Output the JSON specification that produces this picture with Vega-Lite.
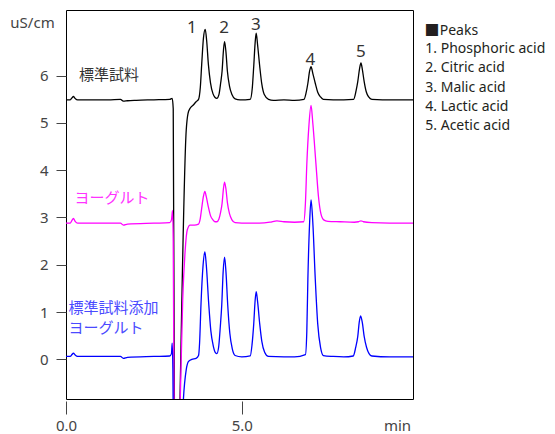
{
  "$schema": "https://vega.github.io/schema/vega-lite/v6.json",
  "autosize": "none",
  "width": 347,
  "height": 389,
  "padding": {"left": 66, "top": 10, "right": 142, "bottom": 35},
  "background": "white",
  "config": {"view": {"stroke": "#000", "strokeWidth": 1}},
  "datasets": {
    "traces": [
      {"s": "A", "t": 0.0, "v": 5.49}, {"s": "A", "t": 0.12, "v": 5.49}, {"s": "A", "t": 0.17, "v": 5.53}, {"s": "A", "t": 0.21, "v": 5.56}, {"s": "A", "t": 0.26, "v": 5.52}, {"s": "A", "t": 0.33, "v": 5.49},
      {"s": "A", "t": 0.8, "v": 5.49}, {"s": "A", "t": 1.2, "v": 5.49}, {"s": "A", "t": 1.55, "v": 5.5}, {"s": "A", "t": 1.63, "v": 5.46}, {"s": "A", "t": 1.75, "v": 5.47}, {"s": "A", "t": 2.0, "v": 5.48},
      {"s": "A", "t": 2.5, "v": 5.49}, {"s": "A", "t": 2.95, "v": 5.5}, {"s": "A", "t": 3.02, "v": 5.52}, {"s": "A", "t": 3.05, "v": 5.3}, {"s": "A", "t": 3.1, "v": -4.0}, {"s": "A", "t": 3.14, "v": -4.5},
      {"s": "A", "t": 3.18, "v": -3.2}, {"s": "A", "t": 3.42, "v": 4.85}, {"s": "A", "t": 3.47, "v": 5.2}, {"s": "A", "t": 3.53, "v": 5.31}, {"s": "A", "t": 3.62, "v": 5.38}, {"s": "A", "t": 3.7, "v": 5.45},
      {"s": "A", "t": 3.77, "v": 5.5}, {"s": "A", "t": 3.82, "v": 5.75}, {"s": "A", "t": 3.86, "v": 6.24}, {"s": "A", "t": 3.91, "v": 6.8}, {"s": "A", "t": 3.96, "v": 6.98}, {"s": "A", "t": 4.0, "v": 6.75},
      {"s": "A", "t": 4.05, "v": 6.24}, {"s": "A", "t": 4.11, "v": 5.85}, {"s": "A", "t": 4.18, "v": 5.62}, {"s": "A", "t": 4.24, "v": 5.54}, {"s": "A", "t": 4.29, "v": 5.52},
      {"s": "A", "t": 4.35, "v": 5.6}, {"s": "A", "t": 4.4, "v": 5.85}, {"s": "A", "t": 4.44, "v": 6.1}, {"s": "A", "t": 4.48, "v": 6.55}, {"s": "A", "t": 4.51, "v": 6.72}, {"s": "A", "t": 4.55, "v": 6.5},
      {"s": "A", "t": 4.59, "v": 6.1}, {"s": "A", "t": 4.65, "v": 5.78}, {"s": "A", "t": 4.72, "v": 5.6}, {"s": "A", "t": 4.81, "v": 5.51}, {"s": "A", "t": 4.95, "v": 5.49}, {"s": "A", "t": 5.1, "v": 5.49},
      {"s": "A", "t": 5.24, "v": 5.5}, {"s": "A", "t": 5.3, "v": 5.75}, {"s": "A", "t": 5.34, "v": 6.2}, {"s": "A", "t": 5.38, "v": 6.7}, {"s": "A", "t": 5.41, "v": 6.9}, {"s": "A", "t": 5.45, "v": 6.65},
      {"s": "A", "t": 5.51, "v": 6.2}, {"s": "A", "t": 5.57, "v": 5.82}, {"s": "A", "t": 5.64, "v": 5.6}, {"s": "A", "t": 5.76, "v": 5.5}, {"s": "A", "t": 5.9, "v": 5.48}, {"s": "A", "t": 6.2, "v": 5.49},
      {"s": "A", "t": 6.5, "v": 5.48}, {"s": "A", "t": 6.77, "v": 5.5}, {"s": "A", "t": 6.83, "v": 5.64}, {"s": "A", "t": 6.88, "v": 5.84}, {"s": "A", "t": 6.93, "v": 6.1}, {"s": "A", "t": 6.97, "v": 6.19},
      {"s": "A", "t": 7.02, "v": 6.05}, {"s": "A", "t": 7.09, "v": 5.84}, {"s": "A", "t": 7.16, "v": 5.65}, {"s": "A", "t": 7.24, "v": 5.55}, {"s": "A", "t": 7.32, "v": 5.5}, {"s": "A", "t": 7.6, "v": 5.49},
      {"s": "A", "t": 7.9, "v": 5.49}, {"s": "A", "t": 8.18, "v": 5.5}, {"s": "A", "t": 8.25, "v": 5.68}, {"s": "A", "t": 8.3, "v": 5.88}, {"s": "A", "t": 8.35, "v": 6.15}, {"s": "A", "t": 8.39, "v": 6.27},
      {"s": "A", "t": 8.43, "v": 6.13}, {"s": "A", "t": 8.48, "v": 5.88}, {"s": "A", "t": 8.54, "v": 5.66}, {"s": "A", "t": 8.61, "v": 5.55}, {"s": "A", "t": 8.7, "v": 5.5}, {"s": "A", "t": 9.0, "v": 5.49},
      {"s": "A", "t": 9.4, "v": 5.49}, {"s": "A", "t": 9.87, "v": 5.49},

      {"s": "B", "t": 0.0, "v": 2.88}, {"s": "B", "t": 0.12, "v": 2.88}, {"s": "B", "t": 0.17, "v": 2.94}, {"s": "B", "t": 0.21, "v": 2.98}, {"s": "B", "t": 0.26, "v": 2.92}, {"s": "B", "t": 0.33, "v": 2.88},
      {"s": "B", "t": 1.2, "v": 2.88}, {"s": "B", "t": 1.55, "v": 2.88}, {"s": "B", "t": 1.63, "v": 2.84}, {"s": "B", "t": 1.75, "v": 2.86}, {"s": "B", "t": 2.5, "v": 2.88}, {"s": "B", "t": 2.95, "v": 2.89},
      {"s": "B", "t": 3.0, "v": 2.95}, {"s": "B", "t": 3.03, "v": 3.15}, {"s": "B", "t": 3.05, "v": 2.5}, {"s": "B", "t": 3.09, "v": -3.0}, {"s": "B", "t": 3.14, "v": -4.0}, {"s": "B", "t": 3.2, "v": -2.0},
      {"s": "B", "t": 3.25, "v": -0.84}, {"s": "B", "t": 3.32, "v": 1.26}, {"s": "B", "t": 3.39, "v": 2.31}, {"s": "B", "t": 3.45, "v": 2.74}, {"s": "B", "t": 3.53, "v": 2.84}, {"s": "B", "t": 3.65, "v": 2.84},
      {"s": "B", "t": 3.77, "v": 2.86}, {"s": "B", "t": 3.82, "v": 2.98}, {"s": "B", "t": 3.86, "v": 3.2}, {"s": "B", "t": 3.91, "v": 3.45}, {"s": "B", "t": 3.95, "v": 3.55}, {"s": "B", "t": 3.99, "v": 3.44},
      {"s": "B", "t": 4.05, "v": 3.22}, {"s": "B", "t": 4.11, "v": 3.04}, {"s": "B", "t": 4.18, "v": 2.95}, {"s": "B", "t": 4.24, "v": 2.91}, {"s": "B", "t": 4.29, "v": 2.91},
      {"s": "B", "t": 4.35, "v": 2.97}, {"s": "B", "t": 4.4, "v": 3.12}, {"s": "B", "t": 4.44, "v": 3.3}, {"s": "B", "t": 4.48, "v": 3.62}, {"s": "B", "t": 4.51, "v": 3.75}, {"s": "B", "t": 4.55, "v": 3.6},
      {"s": "B", "t": 4.59, "v": 3.32}, {"s": "B", "t": 4.65, "v": 3.08}, {"s": "B", "t": 4.72, "v": 2.95}, {"s": "B", "t": 4.81, "v": 2.89}, {"s": "B", "t": 5.0, "v": 2.88}, {"s": "B", "t": 5.5, "v": 2.88},
      {"s": "B", "t": 5.8, "v": 2.9}, {"s": "B", "t": 6.0, "v": 2.93}, {"s": "B", "t": 6.2, "v": 2.91}, {"s": "B", "t": 6.5, "v": 2.9}, {"s": "B", "t": 6.76, "v": 2.91},
      {"s": "B", "t": 6.81, "v": 3.3}, {"s": "B", "t": 6.85, "v": 4.13}, {"s": "B", "t": 6.91, "v": 4.95}, {"s": "B", "t": 6.97, "v": 5.37}, {"s": "B", "t": 7.02, "v": 5.0}, {"s": "B", "t": 7.11, "v": 4.13},
      {"s": "B", "t": 7.18, "v": 3.45}, {"s": "B", "t": 7.25, "v": 3.08}, {"s": "B", "t": 7.33, "v": 2.95}, {"s": "B", "t": 7.45, "v": 2.92}, {"s": "B", "t": 7.8, "v": 2.91}, {"s": "B", "t": 8.2, "v": 2.9},
      {"s": "B", "t": 8.32, "v": 2.91}, {"s": "B", "t": 8.39, "v": 2.93}, {"s": "B", "t": 8.46, "v": 2.91}, {"s": "B", "t": 8.7, "v": 2.89}, {"s": "B", "t": 9.2, "v": 2.88}, {"s": "B", "t": 9.87, "v": 2.88},

      {"s": "C", "t": 0.0, "v": 0.06}, {"s": "C", "t": 0.12, "v": 0.06}, {"s": "C", "t": 0.17, "v": 0.1}, {"s": "C", "t": 0.21, "v": 0.13}, {"s": "C", "t": 0.26, "v": 0.09}, {"s": "C", "t": 0.33, "v": 0.06},
      {"s": "C", "t": 1.2, "v": 0.06}, {"s": "C", "t": 1.55, "v": 0.06}, {"s": "C", "t": 1.63, "v": 0.02}, {"s": "C", "t": 1.75, "v": 0.04}, {"s": "C", "t": 2.5, "v": 0.06}, {"s": "C", "t": 2.95, "v": 0.07},
      {"s": "C", "t": 3.0, "v": 0.12}, {"s": "C", "t": 3.02, "v": 0.34}, {"s": "C", "t": 3.04, "v": -0.2}, {"s": "C", "t": 3.07, "v": -3.0}, {"s": "C", "t": 3.12, "v": -4.0}, {"s": "C", "t": 3.2, "v": -4.0},
      {"s": "C", "t": 3.34, "v": -0.84}, {"s": "C", "t": 3.42, "v": -0.22}, {"s": "C", "t": 3.48, "v": -0.05}, {"s": "C", "t": 3.58, "v": 0.0}, {"s": "C", "t": 3.7, "v": 0.02},
      {"s": "C", "t": 3.77, "v": 0.08}, {"s": "C", "t": 3.8, "v": 0.35}, {"s": "C", "t": 3.84, "v": 1.17}, {"s": "C", "t": 3.9, "v": 2.0}, {"s": "C", "t": 3.95, "v": 2.27}, {"s": "C", "t": 3.99, "v": 2.0},
      {"s": "C", "t": 4.06, "v": 1.17}, {"s": "C", "t": 4.12, "v": 0.6}, {"s": "C", "t": 4.19, "v": 0.28}, {"s": "C", "t": 4.25, "v": 0.14}, {"s": "C", "t": 4.29, "v": 0.12},
      {"s": "C", "t": 4.34, "v": 0.25}, {"s": "C", "t": 4.39, "v": 0.7}, {"s": "C", "t": 4.43, "v": 1.15}, {"s": "C", "t": 4.47, "v": 1.85}, {"s": "C", "t": 4.51, "v": 2.16}, {"s": "C", "t": 4.55, "v": 1.85},
      {"s": "C", "t": 4.6, "v": 1.15}, {"s": "C", "t": 4.66, "v": 0.55}, {"s": "C", "t": 4.73, "v": 0.22}, {"s": "C", "t": 4.81, "v": 0.08}, {"s": "C", "t": 5.0, "v": 0.05}, {"s": "C", "t": 5.24, "v": 0.07},
      {"s": "C", "t": 5.29, "v": 0.3}, {"s": "C", "t": 5.34, "v": 0.75}, {"s": "C", "t": 5.38, "v": 1.25}, {"s": "C", "t": 5.41, "v": 1.43}, {"s": "C", "t": 5.45, "v": 1.22}, {"s": "C", "t": 5.51, "v": 0.75},
      {"s": "C", "t": 5.57, "v": 0.38}, {"s": "C", "t": 5.65, "v": 0.15}, {"s": "C", "t": 5.76, "v": 0.06}, {"s": "C", "t": 6.2, "v": 0.05}, {"s": "C", "t": 6.5, "v": 0.05}, {"s": "C", "t": 6.81, "v": 0.1},
      {"s": "C", "t": 6.85, "v": 0.6}, {"s": "C", "t": 6.88, "v": 1.7}, {"s": "C", "t": 6.93, "v": 2.9}, {"s": "C", "t": 6.97, "v": 3.37}, {"s": "C", "t": 7.02, "v": 2.9}, {"s": "C", "t": 7.09, "v": 1.7},
      {"s": "C", "t": 7.16, "v": 0.75}, {"s": "C", "t": 7.24, "v": 0.25}, {"s": "C", "t": 7.32, "v": 0.08}, {"s": "C", "t": 7.6, "v": 0.06}, {"s": "C", "t": 7.9, "v": 0.05}, {"s": "C", "t": 8.17, "v": 0.07},
      {"s": "C", "t": 8.24, "v": 0.25}, {"s": "C", "t": 8.3, "v": 0.49}, {"s": "C", "t": 8.34, "v": 0.78}, {"s": "C", "t": 8.38, "v": 0.92}, {"s": "C", "t": 8.43, "v": 0.77}, {"s": "C", "t": 8.48, "v": 0.49},
      {"s": "C", "t": 8.55, "v": 0.25}, {"s": "C", "t": 8.62, "v": 0.12}, {"s": "C", "t": 8.7, "v": 0.07}, {"s": "C", "t": 9.2, "v": 0.05}, {"s": "C", "t": 9.87, "v": 0.05}
    ],
    "peaks": [
      {"label": "1", "t": 3.58, "v": 7.0},
      {"label": "2", "t": 4.5, "v": 7.01},
      {"label": "3", "t": 5.4, "v": 7.07},
      {"label": "4", "t": 6.95, "v": 6.33},
      {"label": "5", "t": 8.39, "v": 6.5}
    ],
    "samples": [
      {"s": "A", "label": "標準試料", "t": 0.37, "v": 6.01},
      {"s": "B", "label": "ヨーグルト", "t": 0.24, "v": 3.41},
      {"s": "C", "label": "標準試料添加", "t": 0.07, "v": 1.08},
      {"s": "C", "label": "ヨーグルト", "t": 0.07, "v": 0.67}
    ],
    "legendMark": [
      {"label": "■", "t": 10.2, "v": 6.95}
    ],
    "legend": [
      {"label": "Peaks", "t": 10.63, "v": 6.95},
      {"label": "1. Phosphoric acid", "t": 10.22, "v": 6.56},
      {"label": "2. Citric acid", "t": 10.22, "v": 6.16},
      {"label": "3. Malic acid", "t": 10.22, "v": 5.75},
      {"label": "4. Lactic acid", "t": 10.22, "v": 5.34},
      {"label": "5. Acetic acid", "t": 10.22, "v": 4.94}
    ]
  },
  "layer": [
    {
      "data": {"name": "traces"},
      "mark": {"type": "line", "clip": true, "strokeWidth": 1.3, "interpolate": "monotone"},
      "encoding": {
        "x": {
          "field": "t", "type": "quantitative",
          "scale": {"domain": [0, 9.87], "nice": false, "zero": false},
          "axis": {
            "values": [0, 5], "format": ".1f", "domain": false, "grid": false,
            "offset": 2, "tickSize": 13, "tickColor": "#444", "tickWidth": 1,
            "labelFont": "Noto Sans", "labelFontSize": 15, "labelColor": "#444", "labelPadding": 4,
            "labelFlush": false, "labelOverlap": false, "labelBound": false,
            "title": "min", "titleFont": "Noto Sans", "titleFontSize": 15, "titleFontWeight": "normal",
            "titleColor": "#444", "titleX": 331, "titleY": 24, "titleAlign": "center", "titleBaseline": "middle"
          }
        },
        "y": {
          "field": "v", "type": "quantitative",
          "scale": {"domain": [-0.84, 7.39], "nice": false, "zero": false},
          "axis": {
            "values": [0, 1, 2, 3, 4, 5, 6], "format": "d", "domain": false, "grid": false,
            "tickSize": 10, "tickColor": "#444", "tickWidth": 1,
            "labelFont": "Noto Sans", "labelFontSize": 15, "labelColor": "#444", "labelPadding": 8,
            "title": "uS/cm", "titleAngle": 0, "titleFont": "Noto Sans", "titleFontSize": 15, "titleFontWeight": "normal",
            "titleColor": "#444", "titleX": -34, "titleY": 12, "titleAlign": "center", "titleBaseline": "middle"
          }
        },
        "color": {
          "field": "s", "type": "nominal",
          "scale": {"domain": ["A", "B", "C"], "range": ["#000000", "#ff00ff", "#0000ff"]},
          "legend": null
        },
        "order": {"field": "t", "type": "quantitative"}
      }
    },
    {
      "data": {"name": "samples"},
      "mark": {"type": "text", "align": "left", "baseline": "middle", "font": "Noto Sans CJK JP", "fontSize": 15},
      "encoding": {
        "x": {"field": "t", "type": "quantitative"},
        "y": {"field": "v", "type": "quantitative"},
        "text": {"field": "label"},
        "color": {
          "field": "s", "type": "nominal",
          "scale": {"domain": ["A", "B", "C"], "range": ["#333333", "#ff33ff", "#4a4aff"]},
          "legend": null
        }
      }
    },
    {
      "data": {"name": "peaks"},
      "mark": {"type": "text", "align": "center", "baseline": "middle", "font": "Noto Sans", "fontSize": 17, "color": "#333333"},
      "encoding": {
        "x": {"field": "t", "type": "quantitative"},
        "y": {"field": "v", "type": "quantitative"},
        "text": {"field": "label"}
      }
    },
    {
      "data": {"name": "legendMark"},
      "mark": {"type": "text", "align": "left", "baseline": "middle", "font": "Noto Sans CJK JP", "fontSize": 15, "color": "#231f20", "clip": false},
      "encoding": {
        "x": {"field": "t", "type": "quantitative"},
        "y": {"field": "v", "type": "quantitative"},
        "text": {"field": "label"}
      }
    },
    {
      "data": {"name": "legend"},
      "mark": {"type": "text", "align": "left", "baseline": "middle", "font": "Noto Sans", "fontSize": 14, "color": "#231f20", "clip": false},
      "encoding": {
        "x": {"field": "t", "type": "quantitative"},
        "y": {"field": "v", "type": "quantitative"},
        "text": {"field": "label"}
      }
    }
  ],
  "resolve": {"scale": {"color": "independent"}}
}
